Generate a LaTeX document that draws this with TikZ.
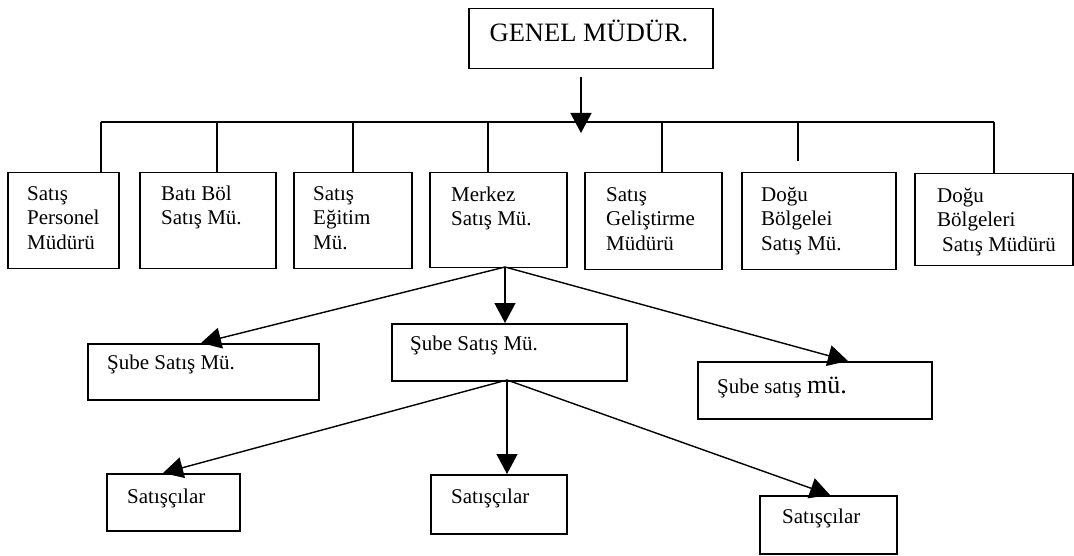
\documentclass[tikz,border=0pt]{standalone}
\usepackage{fontspec}
\setmainfont{Liberation Serif}
\usetikzlibrary{arrows.meta}
% strut that fixes the height of the first line of a multi-line label
\newcommand\linestrut{\rule{0pt}{16pt}}
\begin{document}
\begin{tikzpicture}[x=1pt,y=-1pt,
  box/.style={draw, line width=1.5pt, anchor=north west, inner sep=0pt},
  txt/.style={anchor=north west, inner sep=0pt, align=left, font=\fontsize{21}{24.5}\selectfont},
  one/.style={anchor=base west, inner sep=0pt, font=\fontsize{21}{24.5}\selectfont},
  link/.style={line width=1.4pt},
  arr/.style={line width=1.4pt, -{Triangle[length=20pt,width=21pt]}},
]
\useasboundingbox (0,0) rectangle (1074,556);

% --- general manager ---
\node[box, minimum width=244pt, minimum height=60pt] (gm) at (468,8) {};
\node[anchor=base, inner sep=0pt, font=\fontsize{26.5}{30}\selectfont] (gmt) at (589,42) {GENEL MÜDÜR.};

% --- first level departments ---
\node[box, minimum width=111pt, minimum height=96pt] (b1) at (7,172) {};
\node[box, minimum width=136pt, minimum height=96pt] (b2) at (139,172) {};
\node[box, minimum width=118pt, minimum height=96pt] (b3) at (293,172) {};
\node[box, minimum width=137pt, minimum height=95pt] (b4) at (429,172) {};
\node[box, minimum width=137pt, minimum height=97pt] (b5) at (584,172) {};
\node[box, minimum width=154pt, minimum height=97pt] (b6) at (741,172) {};
\node[box, minimum width=158pt, minimum height=92pt] (b7) at (914,173) {};

\node[txt] (t1) at (27,184) {\linestrut Satış\\Personel\\Müdürü};
\node[txt] (t2) at (161,184) {\linestrut Batı Böl\\Satış Mü.};
\node[txt] (t3) at (313,184) {\linestrut Satış\\Eğitim\\Mü.};
\node[txt] (t4) at (451,185) {\linestrut Merkez\\Satış Mü.};
\node[txt] (t5) at (606,185) {\linestrut Satış\\Geliştirme\\Müdürü};
\node[txt] (t6) at (761,185) {\linestrut Doğu\\Bölgelei\\Satış Mü.};
\node[txt] (t7) at (937,186) {\linestrut Doğu\\Bölgeleri\\\hspace*{5pt}Satış Müdürü};

% --- branch managers ---
\node[box, minimum width=231pt, minimum height=56pt] (s1) at (87,343) {};
\node[box, minimum width=235pt, minimum height=57pt] (s2) at (391,323) {};
\node[box, minimum width=234pt, minimum height=57pt] (s3) at (697,361) {};
\node[one] (u1) at (107,369) {Şube Satış Mü.};
\node[one] (u2) at (410,350) {Şube Satış Mü.};
\node[one] (u3) at (717,393) {Şube satış {\fontsize{26}{30}\selectfont mü.}};

% --- salespeople ---
\node[box, minimum width=133pt, minimum height=57pt] (c1) at (106,473) {};
\node[box, minimum width=136pt, minimum height=59pt] (c2) at (430,474) {};
\node[box, minimum width=137pt, minimum height=58pt] (c3) at (759,495) {};
\node[one] (v1) at (127,503) {Satışçılar};
\node[one] (v2) at (451,503) {Satışçılar};
\node[one] (v3) at (782,523) {Satışçılar};

% --- bus joints ---
\coordinate (j1) at (101,122);
\coordinate (j2) at (217,122);
\coordinate (j3) at (353,122);
\coordinate (j4) at (488,122);
\coordinate (j5) at (662,122);
\coordinate (j6) at (798,122);
\coordinate (j7) at (994,122);
\coordinate (j6end) at (798,161);

% arrow from the general manager onto the bus
\coordinate (a0) at (581,77);
\coordinate (a1) at (581,133);
\draw[arr] (a0) -- (a1);

\draw[link] (j1) -- (j7);
\draw[link] (j1) -- (j1 |- b1.north);
\draw[link] (j2) -- (j2 |- b2.north);
\draw[link] (j3) -- (j3 |- b3.north);
\draw[link] (j4) -- (j4 |- b4.north);
\draw[link] (j5) -- (j5 |- b5.north);
\draw[link] (j6) -- (j6end);
\draw[link] (j7) -- (j7 |- b7.north);

% --- fan-out from the central sales manager ---
\coordinate (f1) at (505,267);
\coordinate (s1in) at (201,343);
\coordinate (s2in) at (505,323);
\coordinate (s3in) at (848,361);
\draw[arr] (f1) -- (s1in);
\draw[arr] (f1) -- (s2in);
\draw[arr] (f1) -- (s3in);

% --- fan-out from the middle branch manager ---
\coordinate (f2) at (507,380);
\coordinate (c1in) at (163,473);
\coordinate (c2in) at (507,474);
\coordinate (c3in) at (830,495);
\draw[arr] (f2) -- (c1in);
\draw[arr] (f2) -- (c2in);
\draw[arr] (f2) -- (c3in);
\end{tikzpicture}
\end{document}
